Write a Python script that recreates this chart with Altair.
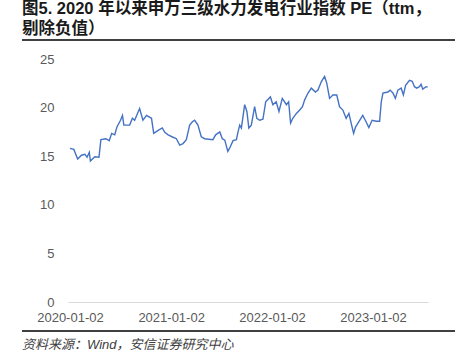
import altair as alt
import pandas as pd

dates = [
    "2020-01-02", "2020-01-16", "2020-01-30", "2020-02-13", "2020-02-25", "2020-03-04",
    "2020-03-12", "2020-03-16", "2020-04-01", "2020-04-16", "2020-04-23", "2020-05-11",
    "2020-05-23", "2020-06-01", "2020-06-12", "2020-06-20", "2020-07-03", "2020-07-10",
    "2020-07-15", "2020-08-05", "2020-08-15", "2020-08-23", "2020-09-10", "2020-09-22",
    "2020-10-05", "2020-10-23", "2020-10-31", "2020-11-19", "2020-12-01", "2020-12-10",
    "2020-12-22", "2021-01-09", "2021-01-21", "2021-02-02", "2021-02-14", "2021-02-26",
    "2021-03-10", "2021-03-20", "2021-03-28", "2021-04-09", "2021-04-21", "2021-05-03",
    "2021-06-02", "2021-06-12", "2021-06-27", "2021-07-06", "2021-07-15", "2021-07-26",
    "2021-08-01", "2021-08-14", "2021-08-26", "2021-09-01", "2021-09-07", "2021-09-13",
    "2021-09-25", "2021-10-03", "2021-10-10", "2021-10-19", "2021-10-31", "2021-11-08",
    "2021-11-18", "2021-11-30", "2021-12-10", "2021-12-27", "2022-01-05", "2022-01-17",
    "2022-01-27", "2022-02-08", "2022-02-23", "2022-03-03", "2022-03-10", "2022-03-18",
    "2022-03-31", "2022-04-12", "2022-04-22", "2022-04-30", "2022-05-12", "2022-05-24",
    "2022-06-08", "2022-06-17", "2022-06-29", "2022-07-11", "2022-07-19", "2022-07-29",
    "2022-08-10", "2022-08-24", "2022-09-03", "2022-09-15", "2022-09-27", "2022-10-07",
    "2022-10-15", "2022-10-24", "2022-10-31", "2022-11-12", "2022-11-26", "2022-12-08",
    "2022-12-18", "2022-12-30", "2023-01-14", "2023-01-26", "2023-02-01", "2023-02-07",
    "2023-02-25", "2023-03-05", "2023-03-15", "2023-03-24", "2023-04-02", "2023-04-14",
    "2023-04-22", "2023-04-30", "2023-05-14", "2023-05-24", "2023-06-01", "2023-06-09",
    "2023-06-19", "2023-06-25", "2023-07-01", "2023-07-13", "2023-07-19",
]
pe = [
    15.8, 15.7, 14.7, 15.1, 15.2, 14.9,
    15.4, 14.5, 14.95, 14.9, 16.7, 16.8,
    16.6, 17.35, 17.2, 18.0, 18.7, 19.2,
    18.2, 18.2, 18.9, 18.7, 19.9, 18.7,
    19.2, 18.9, 17.35, 17.7, 17.9, 17.45,
    17.2, 16.95, 16.8, 16.15, 16.3, 16.7,
    18.2, 18.55, 18.7, 18.2, 17.0, 16.8,
    16.7, 17.2, 17.5, 16.8, 16.65, 15.5,
    15.8, 16.6, 16.7, 17.5, 18.2, 17.9,
    20.3, 19.6, 17.9, 18.2, 20.1, 18.9,
    18.7, 18.8, 20.6, 21.1, 20.3, 20.6,
    19.6, 20.95, 20.3, 20.6, 18.4, 18.9,
    19.4, 19.75, 20.1, 20.8, 21.5, 22.0,
    21.6, 21.8, 22.65, 23.2, 22.5, 20.95,
    21.3, 21.3, 20.1, 19.75, 18.9, 19.4,
    18.4, 17.35, 18.0, 18.55, 19.2, 18.55,
    17.95, 18.7, 18.6, 18.6, 20.6, 21.5,
    21.6, 21.8, 21.5, 20.95, 21.8, 22.0,
    21.3, 22.3, 22.8, 22.7, 22.15, 22.0,
    22.15, 22.4, 21.9, 22.15, 22.1,
]
tick_dates = ["2020-01-02", "2021-01-02", "2022-01-02", "2023-01-02"]
y_ticks = [0, 5, 10, 15, 20, 25]
title_line1 = "图5. 2020 年以来申万三级水力发电行业指数 PE（ttm，"
title_line2 = "剔除负值）"
source_text = "资料来源：Wind，安信证券研究中心"

df = pd.DataFrame({"date": dates, "pe": pe})

FONT = "Liberation Sans, Arial, Noto Sans CJK SC"

line = alt.Chart(df).mark_line(color="#4472C4", strokeWidth=1.4).encode(
    x=alt.X(
        "date:T",
        scale=alt.Scale(domain=["2019-12-26", "2023-07-20"]),
        axis=alt.Axis(
            values=[alt.DateTime(year=int(d[:4]), month=int(d[5:7]), date=int(d[8:])) for d in tick_dates],
            format="%Y-%m-%d",
            title=None,
            grid=False,
            ticks=False,
            domainColor="#d9d9d9",
            domainWidth=1,
            labelColor="#595959",
            labelFont=FONT,
            labelFontSize=13,
            labelPadding=9,
        ),
    ),
    y=alt.Y(
        "pe:Q",
        scale=alt.Scale(domain=[0, 25]),
        axis=alt.Axis(
            values=y_ticks,
            title=None,
            grid=False,
            ticks=False,
            domain=False,
            labelColor="#595959",
            labelFont=FONT,
            labelFontSize=13,
            labelPadding=14,
        ),
    ),
)


def text_layer(txt, y, **kw):
    return alt.Chart(pd.DataFrame({"t": [txt]})).mark_text(
        align="left", baseline="middle", font=FONT, **kw
    ).encode(text="t:N", x=alt.value(-46), y=alt.value(y))


title1 = text_layer(title_line1, -50, fontSize=16.5, fontWeight="bold", color="#1a1a1a")
title2 = text_layer(title_line2, -30, fontSize=16.5, fontWeight="bold", color="#1a1a1a")
src = text_layer(source_text, 286, fontSize=13, fontStyle="italic", color="#404040")

rule_top = alt.Chart(pd.DataFrame({"a": [0]})).mark_rule(color="#000000", strokeWidth=1.5).encode(
    x=alt.value(-46), x2=alt.value(387), y=alt.value(-19)
)
rule_bot = alt.Chart(pd.DataFrame({"a": [0]})).mark_rule(color="#000000", strokeWidth=1.5).encode(
    x=alt.value(-46), x2=alt.value(387), y=alt.value(272)
)

chart = alt.layer(line, title1, title2, src, rule_top, rule_bot).properties(
    width=360,
    height=243,
    autosize=alt.AutoSizeParams(type="none"),
    padding={"left": 68, "top": 59, "right": 38, "bottom": 49},
    background="white",
).configure_view(stroke=None)

chart.save("out.html", embed_options={"renderer": "svg", "actions": False})
